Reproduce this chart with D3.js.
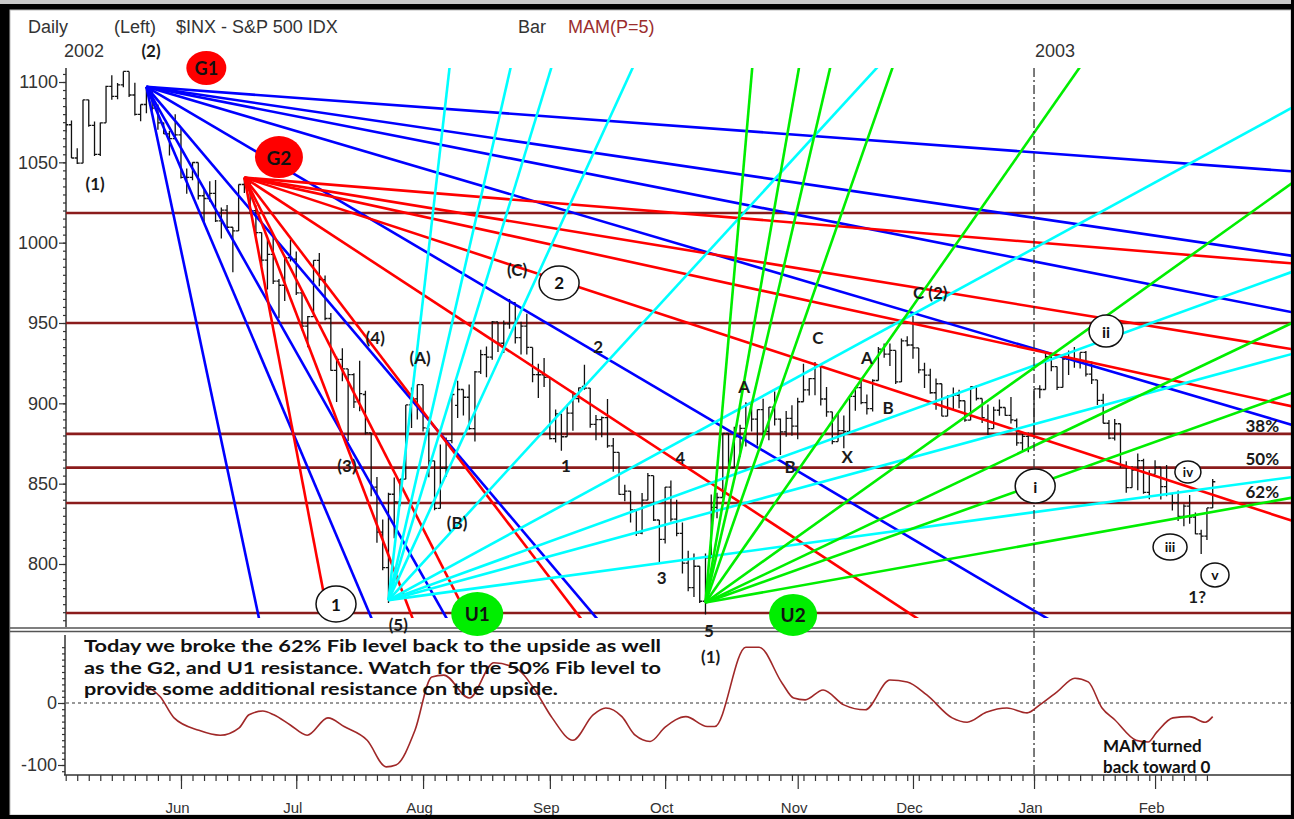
<!DOCTYPE html>
<html>
<head>
<meta charset="utf-8">
<script src="https://cdn.jsdelivr.net/npm/d3@7"></script>
<style>
  body { margin: 0; background: #000; }
  text { font-family: "Liberation Sans", Arial, sans-serif; }
  .wave { font-family: Lato, "Open Sans", sans-serif; font-weight: 700; }
</style>
</head>
<body>
<div id="chart"></div>
<script>
// trading calendar
const firstDay = "2002-05-03"
const lastDay = "2003-02-18"
const holidays = ["2002-05-27", "2002-07-04", "2002-09-02", "2002-11-28", "2002-12-25", "2003-01-01", "2003-01-20", "2003-02-17"]
const monthNames = ["Jan","Feb","Mar","Apr","May","Jun","Jul","Aug","Sep","Oct","Nov","Dec"]

// daily S&P 500 bars (May 3 2002 .. Feb 18 2003)
const opens = [
  1084.6,1073.4,1052.7,1049.5,1088.9,1073.0,1055.0,1074.6,1097.3,1091.1,1098.2,1106.6,1091.9,1079.9,1086.0,1097.1,1083.8,1074.6,1067.7,1064.7,
  1067.1,1040.7,1040.7,1049.9,1029.2,1027.5,1030.7,1013.6,1020.3,1009.6,1007.3,1036.2,1037.1,1020.0,1006.3,989.1,992.7,976.1,973.5,990.6,
  989.8,968.7,948.1,954.0,989.0,977.0,952.8,920.5,927.4,921.4,917.9,901.1,905.5,881.6,847.8,819.9,797.7,843.4,838.7,852.8,899.0,902.8,
  911.6,884.4,864.2,834.6,859.6,876.8,898.7,908.6,903.8,884.2,919.6,930.3,928.8,950.7,937.4,949.4,962.7,940.9,948.0,934.8,917.9,917.8,
  916.1,878.0,893.4,879.2,893.9,903.0,910.6,909.5,886.9,889.8,891.1,873.5,869.5,843.3,845.4,833.7,819.3,839.7,855.0,827.4,
  815.3,847.9,827.9,819.0,800.6,785.3,798.6,776.8,803.9,835.3,841.4,881.3,860.0,879.2,884.4,899.7,890.2,896.1,882.5,897.7,890.2,882.2,890.7,
  885.8,901.0,908.4,915.4,923.8,902.7,894.7,876.2,883.0,882.5,904.3,909.8,900.4,896.7,914.2,933.8,930.6,932.9,913.3,938.9,
  936.3,934.5,920.8,917.6,906.6,912.2,892.0,904.5,905.0,901.6,889.5,910.4,903.0,890.0,884.3,895.7,897.4,892.5,889.3,875.4,879.4,
  879.8,909.0,908.6,929.0,922.9,909.9,927.6,927.6,926.3,931.7,918.2,914.6,901.8,887.6,878.4,887.3,861.4,847.5,858.5,864.4,844.6,
  855.7,860.3,848.2,843.6,838.2,829.7,836.0,829.2,818.7,817.4,834.9
]
const highs = [
  1084.6,1076.0,1058.7,1088.9,1088.9,1075.4,1074.8,1097.7,1104.2,1099.3,1106.6,1106.6,1099.6,1086.0,1097.1,1097.1,1086.0,1074.8,1069.5,1079.9,
  1070.7,1046.1,1050.1,1049.9,1033.0,1038.2,1039.0,1021.9,1023.5,1009.6,1036.2,1040.8,1037.6,1023.3,1006.3,1002.1,1005.9,977.4,990.7,1001.8,
  994.5,968.7,954.3,989.1,993.6,979.6,956.3,929.2,934.3,921.4,918.7,926.5,907.8,881.6,854.1,827.7,844.3,853.8,852.9,899.0,909.8,911.6,
  911.6,884.7,864.2,874.4,878.7,905.8,914.0,908.6,911.7,920.2,933.3,935.4,951.2,950.7,951.6,965.0,962.7,950.8,955.8,934.8,924.6,928.2,
  916.1,896.1,893.4,899.1,907.3,909.9,924.0,909.5,892.8,891.8,902.7,878.5,869.5,849.3,845.4,833.7,844.2,856.6,855.0,827.4,
  847.9,851.9,840.0,825.9,808.2,806.5,798.6,806.5,843.3,844.4,881.3,881.3,885.4,886.7,900.7,899.7,896.1,902.9,897.7,907.4,890.6,895.3,898.8,
  903.4,924.6,915.8,925.7,923.8,910.1,894.7,894.3,892.5,904.3,910.2,915.9,905.5,915.0,935.1,937.2,937.2,932.9,940.4,941.8,
  954.3,934.5,925.3,921.5,915.5,912.2,905.0,909.9,908.4,901.6,910.4,911.2,903.0,899.2,897.8,902.4,897.4,903.9,890.5,882.1,881.9,
  909.0,911.3,931.8,930.8,922.9,928.3,932.9,935.1,931.7,932.6,926.0,914.6,906.0,889.7,890.3,887.3,864.0,860.8,868.7,865.5,858.3,
  864.6,860.3,861.6,844.2,845.7,837.2,843.0,832.1,821.3,834.9,852.9
]
const lows = [
  1068.6,1052.7,1049.0,1049.5,1072.2,1053.9,1053.9,1074.6,1088.9,1089.2,1096.8,1090.6,1079.1,1075.6,1080.6,1082.2,1070.3,1067.7,1054.3,1064.7,
  1039.9,1030.5,1038.8,1026.9,1012.5,1025.5,1012.9,1002.6,1008.1,981.6,1007.3,1030.9,1017.9,1004.6,985.7,970.9,974.2,952.9,963.7,988.3,
  967.4,945.5,934.9,954.0,972.9,951.7,920.3,900.9,913.7,876.5,897.1,895.0,880.6,842.1,813.3,796.1,775.7,816.1,835.9,852.8,884.7,889.9,
  882.5,854.0,833.4,834.6,854.2,875.2,890.8,892.4,883.6,876.2,918.2,916.2,927.2,931.9,931.3,946.4,937.2,930.4,930.4,913.2,903.3,910.2,
  877.5,875.7,870.5,879.2,882.9,900.5,908.5,884.8,877.1,878.9,872.4,857.4,843.1,839.1,825.8,817.4,818.5,839.7,826.8,800.2,
  812.8,826.5,817.3,794.1,783.0,779.5,775.8,768.6,803.9,828.4,841.4,856.3,860.0,866.6,873.1,882.4,873.8,879.0,877.0,886.2,867.9,879.2,879.8,
  877.7,901.0,904.9,905.0,898.7,891.6,874.6,876.2,872.1,882.5,895.4,899.5,893.1,894.9,914.2,928.4,923.3,912.1,913.3,935.6,
  927.7,918.7,909.5,905.9,896.0,892.0,892.0,896.5,897.0,888.5,889.5,901.7,887.8,880.3,884.3,892.3,892.3,887.5,873.6,870.2,869.5,
  879.8,903.1,908.6,919.9,908.3,909.9,917.7,922.1,921.7,916.7,912.0,899.0,887.6,877.6,876.9,859.7,844.3,847.5,845.9,843.7,840.3,
  855.7,840.2,842.1,833.3,826.7,823.5,825.1,818.5,806.3,815.0,834.9
]
const closes = [
  1073.4,1052.7,1049.5,1088.9,1073.0,1055.0,1074.6,1097.3,1091.1,1098.2,1106.6,1091.9,1079.9,1086.0,1097.1,1083.8,1074.6,1067.7,1064.7,1067.1,
  1040.7,1040.7,1049.9,1029.2,1027.5,1030.7,1013.6,1020.3,1009.6,1007.3,1036.2,1037.1,1020.0,1006.3,989.1,992.7,976.1,973.5,990.6,989.8,
  968.7,948.1,954.0,989.0,977.0,952.8,920.5,927.4,921.4,917.9,900.9,906.0,881.6,847.8,819.9,797.7,843.4,838.7,852.8,899.0,902.8,911.6,
  884.7,864.2,834.6,859.6,876.8,905.5,908.6,903.8,884.2,919.6,930.3,928.8,950.7,937.4,949.4,962.7,940.9,948.0,934.8,917.9,917.8,916.1,
  878.0,893.4,879.2,893.9,903.0,909.6,909.5,886.9,889.8,891.1,873.5,869.5,843.3,845.4,833.7,819.3,839.7,855.0,827.4,815.3,
  847.9,827.9,819.0,800.6,785.3,798.6,776.8,803.9,835.3,841.4,881.3,860.0,879.2,884.4,899.7,890.2,896.1,882.5,897.7,890.2,882.2,890.7,885.8,
  901.0,908.4,915.4,923.8,902.7,894.7,876.2,883.0,882.5,904.3,909.8,900.4,896.7,914.2,933.8,930.6,932.9,913.3,938.9,936.3,
  934.5,920.8,917.6,906.6,912.2,892.0,904.5,905.0,901.6,889.5,910.4,903.0,891.1,884.3,895.8,897.4,892.5,889.7,875.4,879.4,879.8,
  909.0,908.6,929.0,922.9,909.9,927.6,927.6,926.3,931.7,918.2,914.6,901.8,887.6,878.4,887.3,861.4,847.5,858.5,864.4,844.6,855.7,
  860.3,848.2,843.6,838.2,829.7,836.0,829.2,818.7,817.4,834.9,851.2
]

// MAM(P=5) read at bar positions
const mamBar = [13.8,16.4,18.8,23.1,26.8,30.1,31.8,34.2,36.1,38.9,41.9,45.5,48.3,52.3,55.6,57.3,60.6,63.5,65.6,70.0,
  74.3,78.6,81.4,84.4,88.0,91.5,93.7,96.5,98.8,101.4,104.0,107.6,111.3,112.6,118.0,120.3,124.3,126.3,128.3,131.4,
  135.0,138.7,143.0,146.0,149.4,153.8,156.4,159.7,163.3,166.8,169.0,172.0,175.1,177.4,179.8,182.0,185.7,187.8,189.3,192.1,
  195.0,197.7,199.0]
const mamVal = [28,10,-24,-44,-52,-40,-19,-13,-19,-35,-52,-24,-38,-60,-103,-100,-44,42,45,8,
  65,53,21,-24,-60,-19,-8,-22,-52,-62,-39,-22,-38,-38,90,90,32,8,5,21,
  -3,-11,37,34,13,-24,-31,-15,-8,-16,-3,18,40,34,-8,-27,-60,-63,-47,-24,
  -22,-31,-22]

// Gann fans: origin bar, origin price, points per bar of the 1x1 line
const fanNames = ["G1", "G2", "U1", "U2"]
const fanBar = [14, 31, 56, 111]
const fanPrice = [1097, 1040.5, 777.5, 776]
const fanUnit = [2.117, 2.35, 3.91, 5.13]
const fanDir = [-1, -1, 1, 1]
const gannRatios = [8, 4, 3, 2, 1, 1/2, 1/3, 1/4, 1/8]

// horizontal / fib levels
const levels = [1018.5, 950, 881, 860, 838, 769.5]

// price axis ticks
const priceTicks = [800, 850, 900, 950, 1000, 1050, 1100]
const mamTicks = [-100, 0]

// wave count labels (bar, price)
const waveText = ["(2)","(1)","(4)","(3)","(5)","(A)","(B)","(C)","2","1","4","3","5","(1)","A","B","C","A","B","X","C (2)","1?","38%","50%","62%"]
const waveBar = [14.8,5.1,53.7,48.8,57.7,61.5,67.9,78.3,92.4,86.8,106.6,103.4,111.6,111.9,117.7,125.7,130.5,139.0,142.7,135.6,150.0,196.3,207.6,207.6,207.6]
const wavePrice = [1119.9,1037.1,940.7,861.6,762.5,928.8,826.1,983.0,935.1,861.6,866.0,791.3,758.3,742.7,910.2,860.4,940.7,928.8,897.1,866.6,968.7,779.5,885.9,865.4,845.4]

// circled labels (bar, price)
const circText = ["G1","G2","U1","U2","2","1","ii","i","iv","iii","v"]
const circBar = [24.4,37.0,71.4,126.2,85.6,46.9,180.5,168.2,194.7,191.6,199.4]
const circPrice = [1108.7,1053.3,768.9,768.3,974.9,775.1,945.0,848.5,857.3,810.6,793.2]

const note = ["Today we broke the 62% Fib level back to the upside as well",
              "as the G2, and U1 resistance.  Watch for the 50% Fib level to",
              "provide some additional resistance on the upside."]
const note2 = ["MAM turned", "back toward 0"]

// ---------------------------------------------------------------
const W = 1294, H = 819
const plot = {left: 66, right: 1291, top: 68, bottom: 618}
const fanColor = {G1: "#0000ff", G2: "#ff0000", U1: "#00ffff", U2: "#00ee00"}
const circStyle = {
  G1: [20, 17, "#ff0000", 18], G2: [24, 21, "#ff0000", 19], U1: [26, 22, "#00ee00", 19], U2: [24, 21, "#00ee00", 19],
  "2": [20, 17, "#fff", 17], "1": [20, 18, "#fff", 17], ii: [17, 16, "#fff", 16], i: [20, 17, "#fff", 16],
  iv: [13, 11, "#fff", 13], iii: [17, 13, "#fff", 14], v: [14, 12, "#fff", 14]
}

const parse = d3.utcParse("%Y-%m-%d")
const fmt = d3.utcFormat("%Y-%m-%d")
const dates = d3.utcDays(parse(firstDay), d3.utcDay.offset(parse(lastDay), 1))
  .filter(d => d.getUTCDay() % 6 !== 0 && !holidays.includes(fmt(d)))
const n = Math.min(dates.length, closes.length)
const monthStarts = d3.range(1, n).filter(i => dates[i].getUTCMonth() !== dates[i - 1].getUTCMonth())

const x = d3.scaleLinear().domain([0, n - 1]).range([65.7, 1212.7])
const y = d3.scaleLinear().domain([800, 1100]).range([564, 82])
const ym = d3.scaleLinear().domain([-100, 0]).range([765, 703])

const svg = d3.select("#chart").append("svg")
  .attr("width", W).attr("height", H)

// window frame
svg.append("rect").attr("width", W).attr("height", H).attr("fill", "#000")
svg.append("rect").attr("width", W).attr("height", 4).attr("fill", "#c8c8c8")
svg.append("rect").attr("x", 10).attr("y", 10).attr("width", 1281).attr("height", 805)
  .attr("fill", "#fff").attr("stroke", "#bbb").attr("stroke-width", 1)

svg.append("clipPath").attr("id", "plotclip").append("rect")
  .attr("x", plot.left).attr("y", plot.top)
  .attr("width", plot.right - plot.left).attr("height", plot.bottom - plot.top)

// header texts
const header = svg.append("g").style("font-size", "18px").attr("fill", "#333")
header.append("text").attr("x", 28).attr("y", 33).text("Daily")
header.append("text").attr("x", 114).attr("y", 33).text("(Left)")
header.append("text").attr("x", 176).attr("y", 33).text("$INX - S&P 500 IDX")
header.append("text").attr("x", 518).attr("y", 33).text("Bar")
header.append("text").attr("x", 568).attr("y", 33).attr("fill", "#9b2d2d").text("MAM(P=5)")
header.append("text").attr("x", 64).attr("y", 57).text("2002")
header.append("text").attr("x", x(monthStarts[7]) + 1).attr("y", 57).text("2003")

// price axis
const yMinor = svg.append("g").attr("transform", `translate(${plot.left},0)`)
  .call(d3.axisLeft(y).tickValues(d3.range(765, 1110, 5)).tickSize(3).tickFormat(""))
const yMajor = svg.append("g").attr("transform", `translate(${plot.left},0)`)
  .call(d3.axisLeft(y).tickValues(priceTicks).tickSize(7).tickPadding(1).tickFormat(d => String(d)))
yMajor.selectAll("text").style("font-size", "18px").attr("fill", "#333")
svg.selectAll(".domain").remove()
svg.selectAll(".tick line").attr("stroke", "#333").attr("stroke-width", 1.2)
svg.append("line").attr("x1", plot.left).attr("x2", plot.left)
  .attr("y1", plot.top).attr("y2", 627).attr("stroke", "#333").attr("stroke-width", 1.5)

const main = svg.append("g").attr("clip-path", "url(#plotclip)")

// horizontal levels
main.selectAll("line.level").data(levels).join("line")
  .attr("class", "level")
  .attr("x1", plot.left).attr("x2", plot.right)
  .attr("y1", d => y(d)).attr("y2", d => y(d))
  .attr("stroke", "#8b1c1c").attr("stroke-width", 2.6)

// OHLC bars
main.selectAll("path.bar").data(d3.range(n)).join("path")
  .attr("class", "bar")
  .attr("d", i => {
    const xi = x(i)
    return `M${xi},${y(highs[i])}V${y(lows[i])}M${xi - 2.6},${y(opens[i])}H${xi}M${xi},${y(closes[i])}H${xi + 2.6}`
  })
  .attr("fill", "none").attr("stroke", "#111").attr("stroke-width", 1.3)

// Gann fans
fanNames.forEach((name, k) => {
  const b0 = fanBar[k], p0 = fanPrice[k]
  const far = 260
  main.append("g").selectAll("line").data(gannRatios).join("line")
    .attr("x1", x(b0)).attr("y1", y(p0))
    .attr("x2", x(b0 + far))
    .attr("y2", r => y(p0 + fanDir[k] * r * fanUnit[k] * far))
    .attr("stroke", fanColor[name]).attr("stroke-width", 2.6)
})

// year separator
svg.append("line").attr("x1", x(monthStarts[7])).attr("x2", x(monthStarts[7]))
  .attr("y1", plot.top).attr("y2", 775)
  .attr("stroke", "#333").attr("stroke-width", 1.3).attr("stroke-dasharray", "9,3,2,3")

// panel separator
svg.append("line").attr("x1", 10).attr("x2", 1291).attr("y1", 628).attr("y2", 628).attr("stroke", "#555").attr("stroke-width", 1.6)
svg.append("line").attr("x1", 10).attr("x2", 1291).attr("y1", 631.5).attr("y2", 631.5).attr("stroke", "#555").attr("stroke-width", 1.6)

// MAM panel axes
const mMinor = svg.append("g").attr("transform", `translate(${plot.left - 1},0)`)
  .call(d3.axisLeft(ym).tickValues(d3.range(-110, 100, 10)).tickSize(3).tickFormat(""))
const mMajor = svg.append("g").attr("transform", `translate(${plot.left - 1},0)`)
  .call(d3.axisLeft(ym).tickValues(mamTicks).tickSize(7).tickPadding(1).tickFormat(d => String(d)))
mMajor.selectAll("text").style("font-size", "18px").attr("fill", "#333")
mMinor.select(".domain").remove(); mMajor.select(".domain").remove()
svg.append("line").attr("x1", plot.left - 1).attr("x2", plot.left - 1)
  .attr("y1", 635).attr("y2", 775).attr("stroke", "#333").attr("stroke-width", 1.5)

svg.append("line").attr("x1", plot.left).attr("x2", plot.right)
  .attr("y1", ym(0)).attr("y2", ym(0))
  .attr("stroke", "#777").attr("stroke-width", 1.6).attr("stroke-dasharray", "3,3")

// time axis
const xMinor = svg.append("g").attr("transform", "translate(0,775)")
  .call(d3.axisBottom(x).tickValues(d3.range(0, n, 2)).tickSize(6).tickFormat(""))
const xMajor = svg.append("g").attr("transform", "translate(0,775)")
  .call(d3.axisBottom(x).tickValues(monthStarts).tickSize(14).tickPadding(13)
    .tickFormat(i => monthNames[dates[i].getUTCMonth()]))
xMajor.selectAll("text").style("font-size", "15px").attr("fill", "#333").attr("dx", -4)
xMinor.select(".domain").remove(); xMajor.select(".domain").remove()
svg.selectAll(".tick line").attr("stroke", "#333").attr("stroke-width", 1.2)
svg.append("line").attr("x1", 64).attr("x2", 1291).attr("y1", 775).attr("y2", 775)
  .attr("stroke", "#333").attr("stroke-width", 1.6)

// MAM line
svg.append("path")
  .datum(d3.range(mamBar.length))
  .attr("d", d3.line().x(i => x(mamBar[i])).y(i => ym(mamVal[i])).curve(d3.curveMonotoneX))
  .attr("fill", "none").attr("stroke", "#a02828").attr("stroke-width", 1.6)

// wave labels
svg.append("g").selectAll("text").data(waveText).join("text")
  .attr("class", "wave")
  .attr("x", (d, i) => x(waveBar[i])).attr("y", (d, i) => y(wavePrice[i]))
  .attr("text-anchor", "middle").attr("dominant-baseline", "central")
  .style("font-size", "17px").attr("fill", "#1a1a1a")
  .text(d => d)

// circled labels
const circ = svg.append("g").selectAll("g").data(circText).join("g")
  .attr("transform", (d, i) => `translate(${x(circBar[i])},${y(circPrice[i])})`)
circ.append("ellipse")
  .attr("rx", d => circStyle[d][0]).attr("ry", d => circStyle[d][1])
  .attr("fill", d => circStyle[d][2])
  .attr("stroke", d => circStyle[d][2] === "#fff" ? "#111" : "none").attr("stroke-width", 1.5)
circ.append("text").attr("class", "wave")
  .attr("text-anchor", "middle").attr("dominant-baseline", "central")
  .style("font-size", d => circStyle[d][3] + "px").attr("fill", "#111")
  .text(d => d)

// commentary
const noteLen = [577, 577, 474]
svg.append("g").selectAll("text").data(note).join("text")
  .attr("class", "wave")
  .attr("x", 84).attr("y", (d, i) => 652 + i * 21.5)
  .attr("textLength", (d, i) => noteLen[i]).attr("lengthAdjust", "spacingAndGlyphs")
  .style("font-size", "17px").attr("fill", "#111")
  .text(d => d)
svg.append("g").selectAll("text").data(note2).join("text")
  .attr("class", "wave")
  .attr("x", 1103).attr("y", (d, i) => 752 + i * 21)
  .style("font-size", "17px").attr("fill", "#111")
  .text(d => d)

// outer frame edges
svg.append("rect").attr("x", 0).attr("y", 815).attr("width", W).attr("height", 4).attr("fill", "#000")
svg.append("rect").attr("x", 1291).attr("y", 0).attr("width", 3).attr("height", H).attr("fill", "#000")
</script>
</body>
</html>
